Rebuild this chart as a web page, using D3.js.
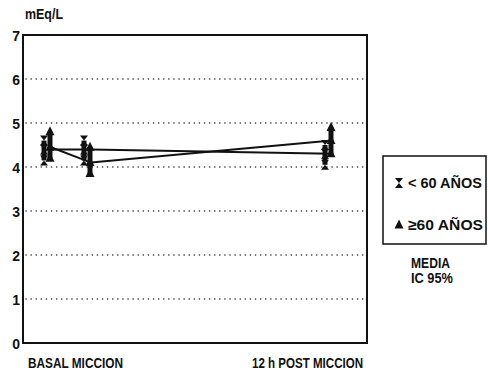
<!DOCTYPE html>
<html>
<head>
<meta charset="utf-8">
<script src="https://cdn.jsdelivr.net/npm/d3@7"></script>
<style>
  body { margin: 0; background: #fff; }
  text { font-family: "Liberation Sans", Arial, sans-serif; font-weight: bold; fill: #111; }
</style>
</head>
<body>
<div id="chart"></div>
<script>
// Data
const times = ["BASAL", "MICCION", "12 h POST MICCION"];
const groups = ["< 60 AÑOS", "≥60 AÑOS"];
const meanYoung = [4.4, 4.4, 4.3];
const lowYoung = [4.15, 4.15, 4.05];
const highYoung = [4.6, 4.6, 4.5];
const meanOld = [4.45, 4.1, 4.6];
const lowOld = [4.2, 3.85, 4.3];
const highOld = [4.8, 4.45, 4.9];
const yTicks = [0, 1, 2, 3, 4, 5, 6, 7];
const xLabels = ["BASAL MICCION", "12 h POST MICCION"];
const notes = ["MEDIA", "IC 95%"];

const width = 488;
const height = 374;
const plot = { left: 23, right: 367, top: 35, bottom: 343 };

const svg = d3.select("#chart").append("svg")
  .attr("width", width)
  .attr("height", height);

const x = d3.scaleOrdinal().domain(times).range([47, 87, 328]);
const y = d3.scaleLinear().domain([0, 7]).range([plot.bottom, plot.top]);

// condensed look: squeeze text to the measured width
function label(xp, yp, txt, size, len, anchor) {
  return svg.append("text")
    .attr("x", xp)
    .attr("y", yp)
    .attr("text-anchor", anchor || "start")
    .attr("textLength", len)
    .attr("lengthAdjust", "spacingAndGlyphs")
    .style("font-size", size + "px")
    .text(txt);
}

// dotted gridlines
svg.append("g")
  .selectAll("line")
  .data(yTicks.filter(d => d > 0 && d < 7))
  .join("line")
  .attr("x1", plot.left + 3)
  .attr("x2", plot.right - 2)
  .attr("y1", d => y(d))
  .attr("y2", d => y(d))
  .attr("stroke", "#333")
  .attr("stroke-width", 1.6)
  .attr("stroke-linecap", "round")
  .attr("stroke-dasharray", "0.1,5");

// y axis labels
const yAxis = svg.append("g")
  .attr("transform", `translate(${plot.left},0)`)
  .call(d3.axisLeft(y).tickValues(yTicks).tickSize(0).tickFormat(d3.format("d")));
yAxis.select(".domain").remove();
yAxis.selectAll("text")
  .attr("x", -3)
  .attr("dy", "0.4em")
  .style("font-size", "14px")
  .style("font-family", "'Liberation Sans', Arial, sans-serif")
  .style("font-weight", "bold")
  .style("fill", "#111");

// frame
svg.append("rect")
  .attr("x", plot.left)
  .attr("y", plot.top)
  .attr("width", plot.right - plot.left)
  .attr("height", plot.bottom - plot.top)
  .attr("fill", "none")
  .attr("stroke", "#111")
  .attr("stroke-width", 2);

label(25, 19, "mEq/L", 14, 38);

// x labels
label(28, 368, xLabels[0], 14, 95);
label(363, 368, xLabels[1], 14, 111, "end");

// symbols
const bowtie = "M-4,-5L4,-5L0,0ZM-4,5L4,5L0,0Z";
const tri = "M0,-5.5L4.5,3.5L-4.5,3.5Z";

const series = [
  { name: groups[0], mean: meanYoung, lo: lowYoung, hi: highYoung, dx: -3, sym: bowtie, len: 74 },
  { name: groups[1], mean: meanOld, lo: lowOld, hi: highOld, dx: 3, sym: tri, len: 75 }
];

const line = d3.line()
  .x((d, i) => x(times[i]) + 4)
  .y(d => y(d));

series.forEach(s => {
  svg.append("path")
    .datum(s.mean)
    .attr("d", line)
    .attr("fill", "none")
    .attr("stroke", "#111")
    .attr("stroke-width", 2);
});

series.forEach(s => {
  const g = svg.append("g");
  times.forEach((t, i) => {
    const cx = x(t) + s.dx;
    g.append("line")
      .attr("x1", cx).attr("x2", cx)
      .attr("y1", y(s.lo[i])).attr("y2", y(s.hi[i]))
      .attr("stroke", "#111")
      .attr("stroke-width", 5);
    [s.lo[i], s.mean[i], s.hi[i]].forEach(v => {
      g.append("path")
        .attr("d", s.sym)
        .attr("transform", `translate(${cx},${y(v)})`)
        .attr("fill", "#111");
    });
  });
});

// legend
svg.append("rect")
  .attr("x", 383)
  .attr("y", 156)
  .attr("width", 103)
  .attr("height", 88)
  .attr("fill", "none")
  .attr("stroke", "#111")
  .attr("stroke-width", 1.5);

series.forEach((s, i) => {
  const ly = 183 + i * 42;
  svg.append("path")
    .attr("d", s.sym)
    .attr("transform", `translate(399,${ly})`)
    .attr("fill", "#111");
  label(408, ly + 5, s.name, 15, s.len);
});

label(411, 268, notes[0], 14, 39);
label(411, 283, notes[1], 14, 42);
</script>
</body>
</html>
